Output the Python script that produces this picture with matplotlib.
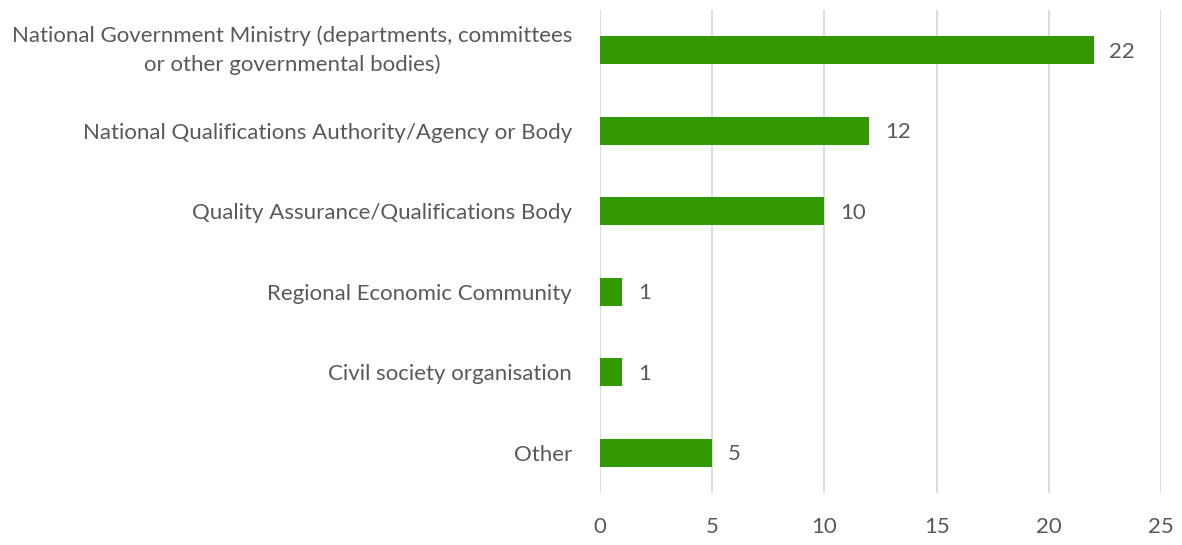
import matplotlib.pyplot as plt

categories = ['National Government Ministry (departments, committees\nor other governmental bodies)',
              'National Qualifications Authority/Agency or Body',
              'Quality Assurance/Qualifications Body',
              'Regional Economic Community',
              'Civil society organisation',
              'Other']
counts = [22, 12, 10, 1, 1, 5]
xticks = [0, 5, 10, 15, 20, 25]

plt.rcParams['font.family'] = ['Lato', 'DejaVu Sans']
txt = '#595959'
fs = 16

fig = plt.figure(figsize=(11.82, 5.45), dpi=100)
ax = fig.add_axes([600 / 1182, 52 / 545, 561 / 1182, 483 / 545])

pos = list(range(len(categories)))
ax.barh(pos, counts, height=0.35, color='#339900', zorder=3)
for p, v in zip(pos, counts):
    ax.text(v + 0.7, p + 0.02, str(v), va='center', ha='left', fontsize=fs, color=txt)

ax.set_xlim(0, 25)
ax.set_ylim(5.5, -0.5)
ax.set_xticks(xticks)
ax.set_yticks(pos)
ax.set_yticklabels(categories, multialignment='center', linespacing=1.5)
ax.get_yticklabels()[0].set_va('center')
ax.tick_params(axis='both', length=0, labelsize=fs, colors=txt)
ax.tick_params(axis='y', pad=20)
ax.tick_params(axis='x', pad=17)
ax.xaxis.grid(True, color='#d9d9d9', linewidth=1.3, zorder=0)
for s in ax.spines.values():
    s.set_visible(False)

fig.savefig('out.png', dpi=100)
